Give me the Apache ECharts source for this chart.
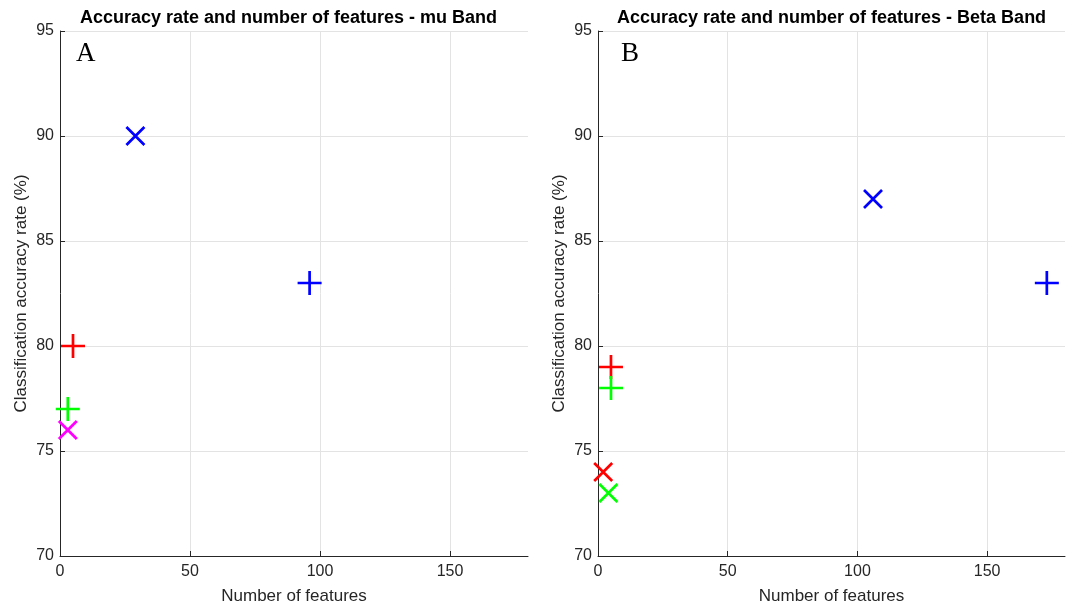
<!DOCTYPE html>
<html>
<head>
<meta charset="utf-8">
<script src="https://cdn.jsdelivr.net/npm/echarts@6/dist/echarts.min.js"></script>
<style>html,body{margin:0;padding:0;background:#fff}#c{width:1073px;height:607px}</style>
</head>
<body>
<div id="c"></div>
<script>
// ---- Data ----
const titles = ['Accuracy rate and number of features - mu Band', 'Accuracy rate and number of features - Beta Band'];
const panelLabels = ['A', 'B'];
const xName = 'Number of features';
const yName = 'Classification accuracy rate (%)';
const xMin = 0, xMax = 180, xStep = 50;
const yMin = 70, yMax = 95, yStep = 5;

// mu band (panel A)
const muBlueCross = [[29, 90]];
const muBluePlus = [[96, 83]];
const muRedPlus = [[5, 80]];
const muGreenPlus = [[3, 77]];
const muMagentaCross = [[3, 76]];

// beta band (panel B)
const betaBlueCross = [[106, 87]];
const betaBluePlus = [[173, 83]];
const betaRedPlus = [[5, 79]];
const betaGreenPlus = [[5, 78]];
const betaRedCross = [[2, 74]];
const betaGreenCross = [[4, 73]];

// ---- Styles ----
const PLUS = 'path://M10,0 L10,20 M0,10 L20,10';
const CROSS = 'path://M0,0 L20,20 M20,0 L0,20';
const axisColor = '#262626';
const gridColor = '#e3e3e3';
const labelFont = 'Liberation Sans, Arial, Helvetica, sans-serif';
const serifFont = 'Liberation Serif, Times New Roman, serif';

function mk(data, gi, shape, color) {
  return {
    type: 'scatter', xAxisIndex: gi, yAxisIndex: gi, data: data,
    symbol: shape === '+' ? PLUS : CROSS,
    symbolSize: shape === '+' ? 24 : 18,
    itemStyle: { color: 'rgba(0,0,0,0)', borderColor: color, borderWidth: 2.7, opacity: 1 },
    emphasis: { disabled: true }, silent: true, z: 5
  };
}

const grids = [
  { left: 60, top: 31, width: 468, height: 525, containLabel: false, outerBoundsMode: 'none' },
  { left: 598, top: 31, width: 467, height: 525, containLabel: false, outerBoundsMode: 'none' }
];

function xAx(i) {
  return {
    type: 'value', gridIndex: i, min: xMin, max: xMax, interval: xStep,
    name: xName, nameLocation: 'middle', nameGap: 32,
    nameTextStyle: { color: axisColor, fontSize: 17, fontFamily: labelFont },
    axisLine: { show: true, onZero: false, lineStyle: { color: axisColor, width: 1 } },
    axisTick: { show: true, inside: true, length: 5, lineStyle: { color: axisColor } },
    axisLabel: { color: axisColor, fontSize: 16, fontFamily: labelFont, margin: 8, showMaxLabel: false },
    splitLine: { show: true, showMaxLine: false, showMinLine: false, lineStyle: { color: gridColor, width: 1 } }
  };
}
function yAx(i) {
  return {
    type: 'value', gridIndex: i, min: yMin, max: yMax, interval: yStep,
    name: yName, nameLocation: 'middle', nameGap: 30,
    nameTextStyle: { color: axisColor, fontSize: 17, fontFamily: labelFont },
    axisLine: { show: true, onZero: false, lineStyle: { color: axisColor, width: 1 } },
    axisTick: { show: true, inside: true, length: 5, lineStyle: { color: axisColor } },
    axisLabel: { color: axisColor, fontSize: 16, fontFamily: labelFont, margin: 6 },
    splitLine: { show: true, lineStyle: { color: gridColor, width: 1 } }
  };
}

const chart = echarts.init(document.getElementById('c'), null, { renderer: 'canvas' });
chart.setOption({
  animation: false,
  backgroundColor: '#fff',
  title: [
    { text: titles[0], left: 80, top: 9, padding: 0, textStyle: { fontSize: 18, fontWeight: 'bold', color: '#000', fontFamily: labelFont } },
    { text: titles[1], left: 617, top: 9, padding: 0, textStyle: { fontSize: 18, fontWeight: 'bold', color: '#000', fontFamily: labelFont } },
    { text: panelLabels[0], left: 76, top: 40, padding: 0, textStyle: { fontSize: 27, fontWeight: 'normal', color: '#000', fontFamily: serifFont } },
    { text: panelLabels[1], left: 621, top: 40, padding: 0, textStyle: { fontSize: 27, fontWeight: 'normal', color: '#000', fontFamily: serifFont } }
  ],
  grid: grids,
  xAxis: [xAx(0), xAx(1)],
  yAxis: [yAx(0), yAx(1)],
  series: [
    mk(muBlueCross, 0, 'x', '#0000ff'),
    mk(muBluePlus, 0, '+', '#0000ff'),
    mk(muRedPlus, 0, '+', '#ff0000'),
    mk(muGreenPlus, 0, '+', '#00ff00'),
    mk(muMagentaCross, 0, 'x', '#ff00ff'),
    mk(betaBlueCross, 1, 'x', '#0000ff'),
    mk(betaBluePlus, 1, '+', '#0000ff'),
    mk(betaRedPlus, 1, '+', '#ff0000'),
    mk(betaGreenPlus, 1, '+', '#00ff00'),
    mk(betaRedCross, 1, 'x', '#ff0000'),
    mk(betaGreenCross, 1, 'x', '#00ff00')
  ]
});
</script>
</body>
</html>
